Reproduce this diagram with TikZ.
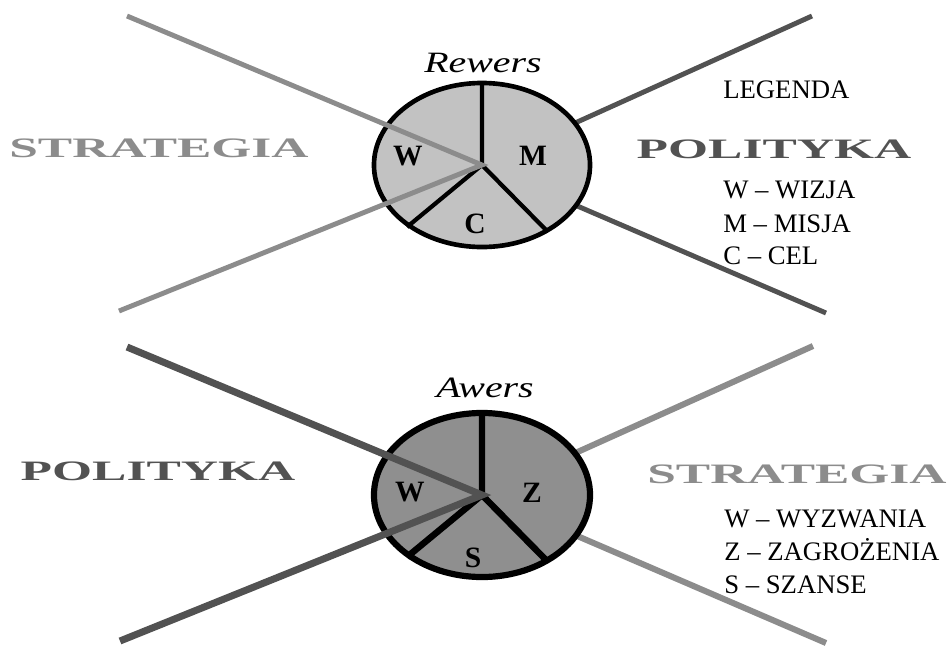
\documentclass[tikz,border=0pt]{standalone}
\usepackage{fontspec}
\setmainfont{Liberation Serif}

\definecolor{lightline}{gray}{0.55}
\definecolor{darkline}{gray}{0.32}
\definecolor{topfill}{gray}{0.76}
\definecolor{botfill}{gray}{0.56}

\newcommand{\widecaps}[1]{\scalebox{1.83}[1]{\bfseries #1}}

\tikzset{
    heading/.style={anchor=base, inner sep=0pt, font=\fontsize{20}{24}\selectfont},
    legend/.style={anchor=base west, inner sep=0pt, font=\fontsize{19}{23}\selectfont},
    part/.style={anchor=base, inner sep=0pt, font=\fontsize{21}{25}\selectfont\bfseries},
    side/.style={anchor=base, inner sep=0pt, font=\fontsize{21}{25}\selectfont\itshape}
}

\begin{document}
\begin{tikzpicture}[x=0.025cm, y=-0.025cm]
    \useasboundingbox (0,0) rectangle (950,646);

    % Rewers
    \coordinate (rc) at (482,165);
    \coordinate (rtop) at (482,83);
    \coordinate (rleft) at (407,227);
    \coordinate (rright) at (548,232);
    \coordinate (r1) at (127,16);
    \coordinate (r2) at (119,311);
    \coordinate (r3) at (812,16);
    \coordinate (r4) at (826,313);

    \draw [darkline, line width=3.5pt] (r3) -- (rc) -- (r4);
    \draw [topfill, fill=topfill] (rc) ellipse [x radius=2.7cm, y radius=2.05cm];
    \draw [line width=3pt] (rtop) -- (rc) -- (rleft) (rc) -- (rright);
    \draw [line width=3.3pt] (rc) ellipse [x radius=2.7cm, y radius=2.05cm];
    \draw [lightline, line width=3.5pt] (r1) -- (rc) -- (r2);

    % Awers
    \coordinate (ac) at (482,495);
    \coordinate (atop) at (482,413);
    \coordinate (aleft) at (407,557);
    \coordinate (aright) at (548,562);
    \coordinate (a1) at (127,347);
    \coordinate (a2) at (120,641);
    \coordinate (a3) at (813,346);
    \coordinate (a4) at (826,643);

    \draw [lightline, line width=4.3pt] (a3) -- (ac) -- (a4);
    \draw [botfill, fill=botfill] (ac) ellipse [x radius=2.7cm, y radius=2.05cm];
    \draw [line width=4.6pt] (atop) -- (ac) -- (aleft) (ac) -- (aright);
    \draw [line width=4.4pt] (ac) ellipse [x radius=2.7cm, y radius=2.05cm];
    \draw [darkline, line width=5pt] (a1) -- (ac) -- (a2);

    % texts
    \node [side] (rewers) at (483,72) {\scalebox{1.35}[1]{Rewers}};
    \node [side] (awers) at (485,397) {\scalebox{1.35}[1]{Awers}};

    \node [part] (rw) at (408,165) {W};
    \node [part] (rm) at (533,165) {M};
    \node [part] (rcel) at (475,233) {C};
    \node [part] (aw) at (410,501) {W};
    \node [part] (az) at (532,502) {Z};
    \node [part] (as) at (473,567) {S};

    \node [heading, text=lightline] (strat1) at (159,157) {\widecaps{STRATEGIA}};
    \node [heading, text=darkline] (polit1) at (774,158) {\widecaps{POLITYKA}};
    \node [heading, text=darkline] (polit2) at (158,480) {\widecaps{POLITYKA}};
    \node [heading, text=lightline] (strat2) at (797,483) {\widecaps{STRATEGIA}};

    \node [legend] (leg) at (723,98) {LEGENDA};
    \node [legend] (leg1) at (723,198) {W – WIZJA};
    \node [legend] (leg2) at (723,232) {M – MISJA};
    \node [legend] (leg3) at (723,264) {C – CEL};
    \node [legend] (leg4) at (724,527) {W – WYZWANIA};
    \node [legend] (leg5) at (724,560) {Z – ZAGROŻENIA};
    \node [legend] (leg6) at (724,593) {S – SZANSE};

\end{tikzpicture}
\end{document}
